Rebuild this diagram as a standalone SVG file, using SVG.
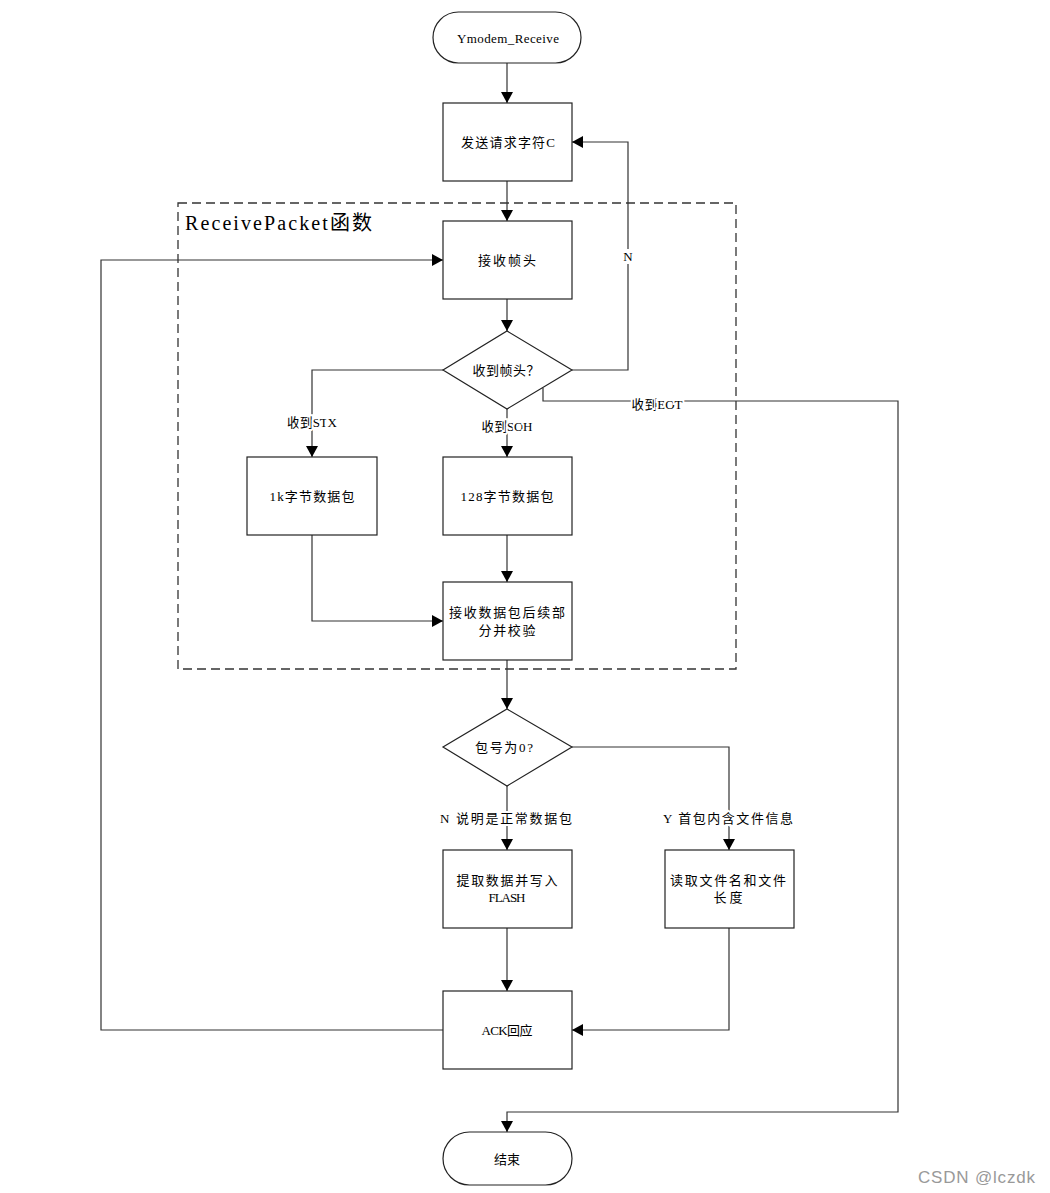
<svg xmlns="http://www.w3.org/2000/svg" width="1050" height="1193" viewBox="0 0 1050 1193">
<style>
.box{fill:#fff;stroke:#222;stroke-width:1.2}
.ln{fill:none;stroke:#333;stroke-width:1.2}
.t{font-family:"Liberation Serif","Noto Sans CJK SC",serif;font-size:13px;fill:#000;text-anchor:middle;dominant-baseline:central}
.lbl{font-family:"Liberation Serif","Noto Sans CJK SC",serif;font-size:13px;fill:#000;text-anchor:middle;dominant-baseline:central;stroke:#fff;stroke-width:4px;paint-order:stroke}
.bg{fill:#fff}
</style>
<defs>
<marker id="ah" markerUnits="userSpaceOnUse" markerWidth="12" markerHeight="12" refX="11" refY="6" orient="auto">
<path d="M0,0 L11,6 L0,12 z" fill="#000"/>
</marker>
</defs>
<rect width="1050" height="1193" fill="#fff"/>
<g id="container">
<rect x="178" y="203" width="558" height="466" fill="none" stroke="#333" stroke-width="1.3" stroke-dasharray="9,5"/>
<text x="185" y="223" font-family="Liberation Serif,Noto Sans CJK SC,serif" font-size="20" fill="#000" dominant-baseline="central" textLength="187" lengthAdjust="spacing">ReceivePacket函数</text>
</g>
<g id="connectors">
<path class="ln" d="M507,63 V103" marker-end="url(#ah)"/>
<path class="ln" d="M507,181 V221" marker-end="url(#ah)"/>
<path class="ln" d="M507,299 V331" marker-end="url(#ah)"/>
<path class="ln" d="M572,370 H628 V142 H572" marker-end="url(#ah)"/>
<path class="ln" d="M443,370 H312 V457" marker-end="url(#ah)"/>
<path class="ln" d="M507,409 V457" marker-end="url(#ah)"/>
<path class="ln" d="M543,388 V401 H898 V1112 H507 V1132" marker-end="url(#ah)"/>
<path class="ln" d="M507,535 V582" marker-end="url(#ah)"/>
<path class="ln" d="M312,535 V621 H443" marker-end="url(#ah)"/>
<path class="ln" d="M507,660 V709" marker-end="url(#ah)"/>
<path class="ln" d="M507,786 V850" marker-end="url(#ah)"/>
<path class="ln" d="M572,747 H729 V850" marker-end="url(#ah)"/>
<path class="ln" d="M507,928 V991" marker-end="url(#ah)"/>
<path class="ln" d="M729,928 V1030 H572" marker-end="url(#ah)"/>
<path class="ln" d="M443,1030 H101 V260 H443" marker-end="url(#ah)"/>
<rect class="bg" x="623" y="249" width="10" height="15"/>
<rect class="bg" x="631" y="396" width="53" height="16"/>
<text class="lbl" x="628" y="256">N</text>
<text class="lbl" x="312" y="422" textLength="50" lengthAdjust="spacing">收到STX</text>
<text class="lbl" x="507" y="426" textLength="51" lengthAdjust="spacing">收到SOH</text>
<text class="lbl" x="657" y="404" textLength="51" lengthAdjust="spacing">收到EOT</text>
<text class="lbl" x="506" y="818" textLength="132" lengthAdjust="spacing">N 说明是正常数据包</text>
<text class="lbl" x="728" y="818" textLength="130" lengthAdjust="spacing">Y 首包内含文件信息</text>
</g>
<g id="start">
<rect class="box" x="433" y="12" width="148" height="51" rx="25.5"/>
<text class="t" x="508" y="38" textLength="102" lengthAdjust="spacing">Ymodem_Receive</text>
</g>
<g id="send_c">
<rect class="box" x="443" y="103" width="129" height="78"/>
<text class="t" x="508" y="142" textLength="94" lengthAdjust="spacing">发送请求字符C</text>
</g>
<g id="recv_head">
<rect class="box" x="443" y="221" width="129" height="78"/>
<text class="t" x="507" y="260" textLength="58" lengthAdjust="spacing">接收帧头</text>
</g>
<g id="dec_head">
<polygon class="box" points="507,331 572,370 507,409 443,370"/>
<text class="t" x="506" y="370" textLength="67" lengthAdjust="spacing">收到帧头？</text>
</g>
<g id="pkt_1k">
<rect class="box" x="247" y="457" width="130" height="78"/>
<text class="t" x="312" y="496" textLength="85" lengthAdjust="spacing">1k字节数据包</text>
</g>
<g id="pkt_128">
<rect class="box" x="443" y="457" width="129" height="78"/>
<text class="t" x="507" y="496" textLength="93" lengthAdjust="spacing">128字节数据包</text>
</g>
<g id="recv_rest">
<rect class="box" x="443" y="582" width="129" height="78"/>
<text class="t" x="507" y="612" textLength="116" lengthAdjust="spacing">接收数据包后续部</text>
<text class="t" x="507" y="630" textLength="57" lengthAdjust="spacing">分并校验</text>
</g>
<g id="dec_zero">
<polygon class="box" points="507,709 572,747 507,786 443,747"/>
<text class="t" x="504" y="747" textLength="58" lengthAdjust="spacing">包号为0?</text>
</g>
<g id="write_flash">
<rect class="box" x="443" y="850" width="129" height="78"/>
<text class="t" x="507" y="880" textLength="101" lengthAdjust="spacing">提取数据并写入</text>
<text class="t" x="507" y="897" textLength="37" lengthAdjust="spacing">FLASH</text>
</g>
<g id="read_info">
<rect class="box" x="665" y="850" width="129" height="78"/>
<text class="t" x="728" y="880" textLength="116" lengthAdjust="spacing">读取文件名和文件</text>
<text class="t" x="728" y="897" textLength="29" lengthAdjust="spacing">长度</text>
</g>
<g id="ack">
<rect class="box" x="443" y="991" width="129" height="78"/>
<text class="t" x="507" y="1030" textLength="51" lengthAdjust="spacing">ACK回应</text>
</g>
<g id="end">
<rect class="box" x="443" y="1132" width="129" height="53" rx="26.5"/>
<text class="t" x="507" y="1159">结束</text>
</g>
<text x="1035" y="1177" font-family="Liberation Sans,Noto Sans CJK SC,sans-serif" font-size="17" fill="#999" text-anchor="end" dominant-baseline="central" textLength="117" lengthAdjust="spacing">CSDN @lczdk</text>
</svg>
